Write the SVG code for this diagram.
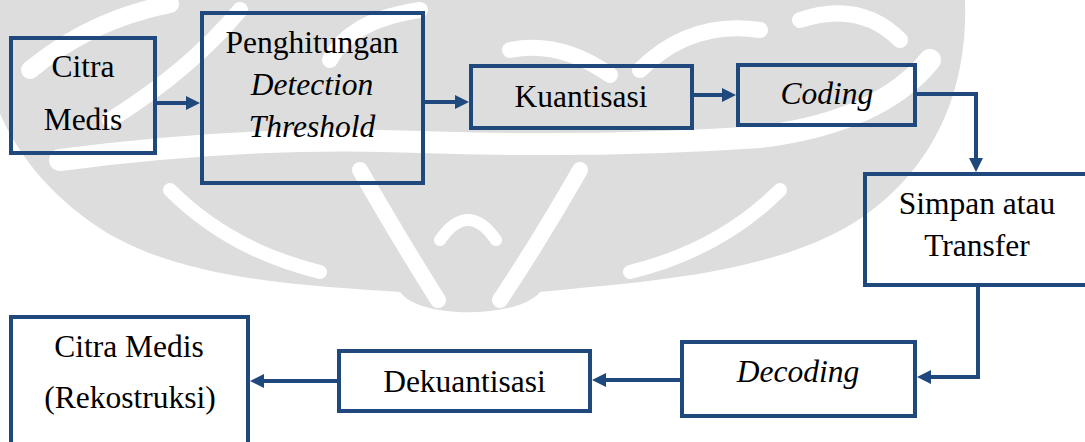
<svg xmlns="http://www.w3.org/2000/svg" width="1085" height="442" viewBox="0 0 1085 442" font-family="Liberation Serif">
<style>
.box{fill:none;stroke:#1F497D;stroke-width:4}
.con{fill:none;stroke:#1F497D;stroke-width:4}
.t{font-family:"Liberation Serif",serif !important;font-size:31.5px;fill:#000;text-anchor:middle}
g text{font-family:"Liberation Serif",serif !important}
.i{font-style:italic}
.wm{fill:#dddddd}
.ws{fill:none;stroke:#fff;stroke-linecap:round}
</style>
<defs>
<marker id="ah" markerUnits="userSpaceOnUse" markerWidth="14" markerHeight="14" refX="6" refY="7" orient="auto">
<path d="M0,0 L14,7 L0,14 Z" fill="#1F497D"/>
</marker>
</defs>
<rect width="1085" height="442" fill="#fff"/>
<g id="watermark">
<path class="wm" d="M-20,0 L965,0 C968,90 935,170 855,222 C770,275 640,282 540,292 C520,318 420,320 400,292 C300,285 175,280 95,225 C15,170 -25,90 -20,0 Z"/>
<path class="ws" stroke-width="18" d="M30,70 Q90,20 170,4"/>
<path class="ws" stroke-width="16" d="M110,120 Q190,70 240,10"/>
<path class="ws" stroke-width="22" d="M60,160 Q250,135 420,142 Q600,148 760,137 Q880,122 930,60"/>
<path class="ws" stroke-width="16" d="M330,60 Q350,20 420,10"/>
<path class="ws" stroke-width="16" d="M510,50 Q560,40 610,75"/>
<path class="ws" stroke-width="16" d="M640,70 Q690,20 760,30"/>
<path class="ws" stroke-width="16" d="M800,20 Q860,0 900,40"/>
<path class="ws" stroke-width="16" d="M360,170 Q400,240 438,300"/>
<path class="ws" stroke-width="16" d="M580,170 Q540,240 500,300"/>
<path class="ws" stroke-width="14" d="M170,190 Q230,250 320,272"/>
<path class="ws" stroke-width="14" d="M780,190 Q720,250 630,272"/>
<path class="ws" stroke-width="12" d="M440,240 Q468,200 496,240"/>
</g>
<g id="connectors">
<path class="con" marker-end="url(#ah)" d="M157,103 L192,103"/>
<path class="con" marker-end="url(#ah)" d="M425,102 L461,102"/>
<path class="con" marker-end="url(#ah)" d="M694,95 L728,95"/>
<path class="con" marker-end="url(#ah)" d="M917,94 L976,94 L976,164"/>
<path class="con" marker-end="url(#ah)" d="M978,287 L978,377 L925,377"/>
<path class="con" marker-end="url(#ah)" d="M680,380 L600,380"/>
<path class="con" marker-end="url(#ah)" d="M337,381 L258,381"/>
</g>
<g id="citra-medis">
<rect class="box" x="11" y="38" width="144" height="115"/>
<text class="t" style="font-family:'Liberation Serif',serif !important" x="83" y="77">Citra</text>
<text class="t" style="font-family:'Liberation Serif',serif !important" x="83" y="130">Medis</text>
</g>
<g id="penghitungan">
<rect class="box" x="202" y="13" width="221" height="170"/>
<text class="t" style="font-family:'Liberation Serif',serif !important" x="312" y="53">Penghitungan</text>
<text class="t i" style="font-family:'Liberation Serif',serif !important" x="312" y="95">Detection</text>
<text class="t i" style="font-family:'Liberation Serif',serif !important" x="312" y="137">Threshold</text>
</g>
<g id="kuantisasi">
<rect class="box" x="471" y="66" width="221" height="62"/>
<text class="t" style="font-family:'Liberation Serif',serif !important" x="581" y="107">Kuantisasi</text>
</g>
<g id="coding">
<rect class="box" x="738" y="65" width="177" height="60"/>
<text class="t i" style="font-family:'Liberation Serif',serif !important" x="827" y="104">Coding</text>
</g>
<g id="simpan">
<rect class="box" x="865" y="174" width="224" height="111"/>
<text class="t" style="font-family:'Liberation Serif',serif !important" x="977" y="214">Simpan atau</text>
<text class="t" style="font-family:'Liberation Serif',serif !important" x="977" y="256">Transfer</text>
</g>
<g id="decoding">
<rect class="box" x="682" y="342" width="233" height="74"/>
<text class="t i" style="font-family:'Liberation Serif',serif !important" x="798" y="382">Decoding</text>
</g>
<g id="dekuantisasi">
<rect class="box" x="339" y="351" width="251" height="60"/>
<text class="t" style="font-family:'Liberation Serif',serif !important" x="464.5" y="392">Dekuantisasi</text>
</g>
<g id="citra-medis-rekonstruksi">
<rect class="box" x="11" y="317" width="237" height="140"/>
<text class="t" style="font-family:'Liberation Serif',serif !important" x="129" y="357">Citra Medis</text>
<text class="t" style="font-family:'Liberation Serif',serif !important" x="130" y="408">(Rekostruksi)</text>
</g>
</svg>
